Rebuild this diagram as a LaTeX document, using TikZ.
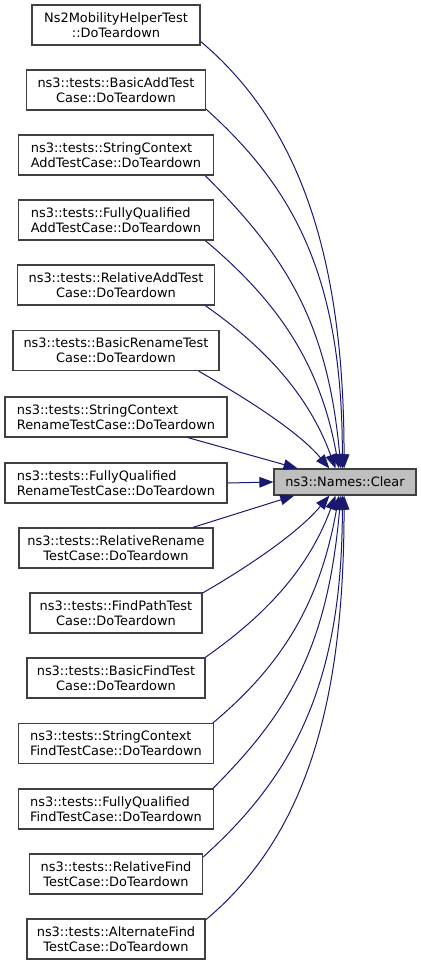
\documentclass[tikz,border=0pt]{standalone}
\usepackage{fontspec}
\setmainfont{DejaVu Sans}
\usetikzlibrary{arrows.meta}
\definecolor{edgeblue}{HTML}{191970}
\definecolor{boxline}{HTML}{404040}
\definecolor{clearfill}{HTML}{BFBFBF}
\begin{document}
\begin{tikzpicture}[x=0.75pt,y=0.75pt,
    caller/.style={draw=boxline,line width=0.9pt,fill=white,minimum height=30pt,inner sep=0pt,font=\fontsize{9.7}{11.25}\selectfont},
    callee/.style={caller,fill=clearfill,minimum height=19.5pt},
    edge/.style={draw=edgeblue,line width=0.75pt,-{Triangle[length=10.5pt,width=8pt]}}]
\useasboundingbox (0,0) rectangle (421,-965);
    %Funcion llamada
    \node[callee,minimum width=0.75pt*142] (clear) at (345,-482) {ns3::Names::Clear};

    %Funciones que llaman
    \foreach \i/\y/\w/\al/\txt in {
        1/25/168/center/{Ns2MobilityHelperTest\\::DoTeardown},
        2/90/179/center/{ns3::tests::BasicAddTest\\Case::DoTeardown},
        3/155/195/left/{ns3::tests::StringContext\\AddTestCase::DoTeardown},
        4/220/195/left/{ns3::tests::FullyQualified\\AddTestCase::DoTeardown},
        5/285/197/center/{ns3::tests::RelativeAddTest\\Case::DoTeardown},
        6/350.5/206/center/{ns3::tests::BasicRenameTest\\Case::DoTeardown},
        7/417/222/left/{ns3::tests::StringContext\\RenameTestCase::DoTeardown},
        8/483/222/left/{ns3::tests::FullyQualified\\RenameTestCase::DoTeardown},
        9/548/194/center/{ns3::tests::RelativeRename\\TestCase::DoTeardown},
        10/613/172/center/{ns3::tests::FindPathTest\\Case::DoTeardown},
        11/678/178/center/{ns3::tests::BasicFindTest\\Case::DoTeardown},
        12/743.5/195/left/{ns3::tests::StringContext\\FindTestCase::DoTeardown},
        13/809/195/left/{ns3::tests::FullyQualified\\FindTestCase::DoTeardown},
        14/874/173/center/{ns3::tests::RelativeFind\\TestCase::DoTeardown},
        15/939/178/center/{ns3::tests::AlternateFind\\TestCase::DoTeardown}}{
        \node[caller,align=\al,minimum width=0.75pt*\w] (c\i) at (116,-\y) {\txt};
    }

    %Aristas curvas
    \foreach \i/\s/\o/\a/\ii/\b/\e in {
        1/349/-40/130/90/210/94,
        2/348.5/-42/120/90/190/101,
        3/347.7/-45/110/95/150/107,
        4/347.5/-40/90/100/110/114,
        5/347/-35/70/110/80/125,
        6/346.3/-30/50/130/50/139,
        10/13.7/30/50/-130/50/221,
        11/13/35/70/-110/80/235,
        12/12.4/40/90/-100/110/246,
        13/12.3/45/110/-95/150/253,
        14/11.1/42/120/-90/190/259,
        15/12/40/130/-90/210/266}{
        \draw[edge] (c\i.\s) .. controls +(\o:\a) and +(\ii:\b) .. (clear.\e);
    }
    %Aristas rectas
    \draw[edge] (c7.344.5) -- (clear.164.5);
    \draw[edge] (c8.east) -- (clear.west);
    \draw[edge] (c9.15.7) -- (clear.195.5);
\end{tikzpicture}
\end{document}
